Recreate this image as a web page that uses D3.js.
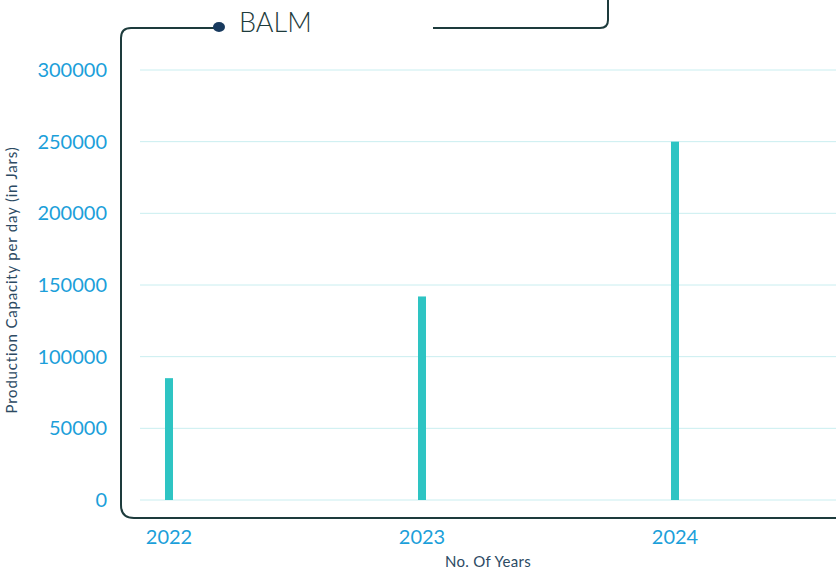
<!DOCTYPE html>
<html>
<head>
<meta charset="utf-8">
<script src="https://cdn.jsdelivr.net/npm/d3@7"></script>
<style>
 body { margin:0; background:#ffffff; }
 text { font-family:"Lato","Noto Sans",sans-serif; }
</style>
</head>
<body>
<script>
 // chart data
 var years = ["2022", "2023", "2024"];
 var capacity = [85000, 142000, 250000];
 var yTicks = [0, 50000, 100000, 150000, 200000, 250000, 300000];
 var title = "BALM";

 var W = 836, H = 571;
 var svg = d3.select("body").append("svg")
     .attr("width", W)
     .attr("height", H);

 var x = d3.scaleBand().domain(years).range([42.5, 801.5]);
 var y = d3.scaleLinear().domain([0, 300000]).range([500, 70]);

 // gridlines
 svg.append("g").selectAll("line")
     .data(yTicks).enter().append("line")
     .attr("x1", 140).attr("x2", W)
     .attr("y1", function(d){ return y(d); })
     .attr("y2", function(d){ return y(d); })
     .style("stroke", "#c9eef0")
     .style("stroke-width", 1);

 // y tick labels
 svg.append("g").selectAll("text")
     .data(yTicks).enter().append("text")
     .attr("x", 107)
     .attr("y", function(d){ return y(d) + 7; })
     .attr("text-anchor", "end")
     .style("font-size", "20px")
     .style("fill", "#1c9fda")
     .text(function(d){ return d; });

 // bars
 svg.append("g").selectAll("rect")
     .data(capacity).enter().append("rect")
     .attr("x", function(d, i){ return x(years[i]) + x.bandwidth()/2 - 4; })
     .attr("y", function(d){ return y(d); })
     .attr("width", 8)
     .attr("height", function(d){ return y(0) - y(d); })
     .style("fill", "#2ec4c3");

 // x labels
 svg.append("g").selectAll("text")
     .data(years).enter().append("text")
     .attr("x", function(d){ return x(d) + x.bandwidth()/2; })
     .attr("y", 544)
     .attr("text-anchor", "middle")
     .style("font-size", "20px")
     .style("fill", "#1c9fda")
     .text(function(d){ return d; });

 // axis titles
 svg.append("text")
     .attr("x", 488).attr("y", 567)
     .attr("text-anchor", "middle")
     .style("font-size", "15px")
     .style("letter-spacing", "0.3px")
     .style("fill", "#2c4a63")
     .text("No. Of Years");

 svg.append("text")
     .attr("transform", "translate(17,280) rotate(-90)")
     .attr("text-anchor", "middle")
     .style("font-size", "15px")
     .style("letter-spacing", "0.8px")
     .style("fill", "#2c4a63")
     .text("Production Capacity per day (in Jars)");

 // frame around the chart
 var frame = "#1d3b3c";
 svg.append("path")
     .attr("d", "M219,28 H131 Q121,28 121,38 V505 Q121,518 134,518 H" + W)
     .style("fill", "none")
     .style("stroke", frame)
     .style("stroke-width", 2);

 svg.append("path")
     .attr("d", "M433,28 H600 Q608,28 608,20 V0")
     .style("fill", "none")
     .style("stroke", frame)
     .style("stroke-width", 2);

 svg.append("ellipse")
     .attr("cx", 219).attr("cy", 27)
     .attr("rx", 6).attr("ry", 5)
     .style("fill", "#183a5e");

 svg.append("text")
     .attr("x", 239).attr("y", 32)
     .style("font-size", "27px")
     .style("font-weight", 300)
     .style("fill", frame)
     .text(title);
</script>
</body>
</html>
